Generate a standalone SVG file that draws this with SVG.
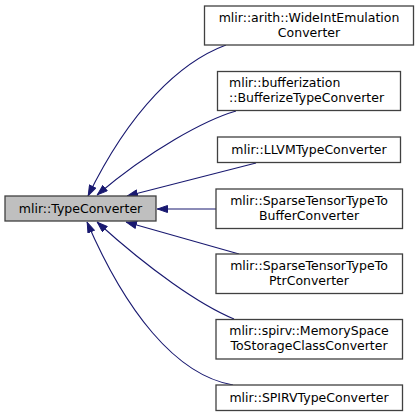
<svg xmlns="http://www.w3.org/2000/svg" width="420" height="417" viewBox="0 0 420 417">
<style>
.node rect{fill:#ffffff;stroke:#404040;stroke-width:1.3}
.node.base rect{fill:#bfbfbf}
.node text{font-family:"DejaVu Sans",sans-serif;font-size:12.5px;fill:#000000;text-anchor:middle}
.node text.l{text-anchor:start}
#edges path{fill:none;stroke:#191970;stroke-width:1.1;marker-end:url(#arr)}
</style>
<defs>
<marker id="arr" viewBox="0 0 11 8" refX="11" refY="4" markerWidth="11" markerHeight="8" markerUnits="userSpaceOnUse" orient="auto">
<path d="M0.5,0.5 L10.5,4 L0.5,7.5 z" fill="#191970" stroke="#191970" stroke-width="1"/>
</marker>
</defs>
<rect width="420" height="417" fill="#ffffff"/>
<g id="edges">
<path d="M226,45 C180,62 130,110 88,196"/>
<path d="M236,111 C205,120 150,150 97,195"/>
<path d="M256,163 L127,196"/>
<path d="M216,209 L157,209"/>
<path d="M239,254 L126,222"/>
<path d="M234,319 C200,305 150,270 97,222"/>
<path d="M233,385 C175,375 125,310 87,222"/>
</g>
<g id="node_TypeConverter" class="node base">
<rect x="5" y="196" width="151" height="25"/>
<text x="80.5" y="212.5">mlir::TypeConverter</text>
</g>
<g id="node_WideIntEmulationConverter" class="node">
<rect x="204.5" y="6" width="209" height="39"/>
<text x="309" y="22">mlir::arith::WideIntEmulation</text>
<text x="309" y="37">Converter</text>
</g>
<g id="node_BufferizeTypeConverter" class="node">
<rect x="217.5" y="71.5" width="183" height="39"/>
<text class="l" x="229" y="87">mlir::bufferization</text>
<text class="l" x="229" y="102">::BufferizeTypeConverter</text>
</g>
<g id="node_LLVMTypeConverter" class="node">
<rect x="217.5" y="137" width="183" height="25.5"/>
<text x="309" y="153.5">mlir::LLVMTypeConverter</text>
</g>
<g id="node_SparseTensorTypeToBufferConverter" class="node">
<rect x="216" y="189" width="186.5" height="39.5"/>
<text x="309" y="205">mlir::SparseTensorTypeTo</text>
<text x="309" y="220">BufferConverter</text>
</g>
<g id="node_SparseTensorTypeToPtrConverter" class="node">
<rect x="216" y="254" width="186.5" height="39.5"/>
<text x="309" y="270">mlir::SparseTensorTypeTo</text>
<text x="309" y="285">PtrConverter</text>
</g>
<g id="node_MemorySpaceToStorageClassConverter" class="node">
<rect x="216" y="319.5" width="186.5" height="39.5"/>
<text x="309" y="335">mlir::spirv::MemorySpace</text>
<text x="309" y="350">ToStorageClassConverter</text>
</g>
<g id="node_SPIRVTypeConverter" class="node">
<rect x="216" y="385" width="186.5" height="25.5"/>
<text x="309" y="401.5">mlir::SPIRVTypeConverter</text>
</g>
</svg>
